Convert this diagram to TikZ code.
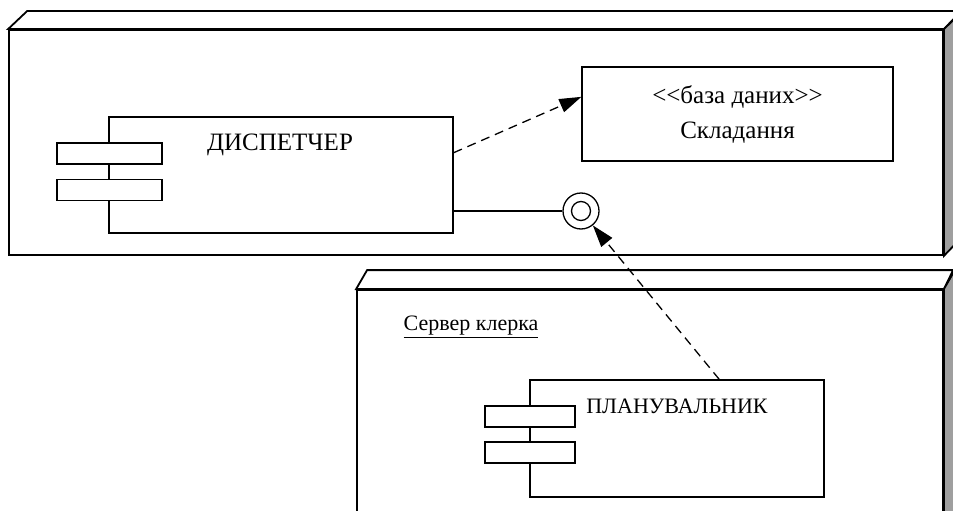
\documentclass[tikz,border=0pt]{standalone}
\usepackage{fontspec}
\setmainfont{Liberation Serif}
\usetikzlibrary{arrows.meta, calc}

\begin{document}
\begin{tikzpicture}[x=1pt, y=-1pt,
    every node/.style={font=\fontsize{22}{26}\selectfont},
    bigtext/.style={font=\fontsize{25}{35}\selectfont},
    front/.style={draw, line width=1.8pt, fill=white, inner sep=0pt},
    topface/.style={draw, line width=1.8pt, fill=white},
    sideface/.style={draw, line width=1.8pt, fill=gray!75},
    comp/.style={draw, line width=1.3pt, fill=white, inner sep=0pt},
    tab/.style={draw, line width=1.3pt, fill=white, inner sep=0pt, minimum height=21pt},
    dep/.style={-{Triangle[length=22pt, width=14pt]}, line width=1.3pt, dash pattern=on 9pt off 6pt},
    iring/.style={draw, circle, line width=1.3pt, fill=white, inner sep=0pt}
  ]
  \useasboundingbox (0,0) rectangle (953,511);
  \clip (0,0) rectangle (953,511);

  % upper node
  \node[front, minimum width=934pt, minimum height=225pt] (srv) at (476,142.5) {};
  \draw[topface] (srv.north west) -- ++(19,-18) -- ++(934,0) -- (srv.north east) -- cycle;
  \draw[sideface] (srv.north east) -- ++(19,-18) -- ++(0,225) -- (srv.south east) -- cycle;

  % lower node
  \node[front, minimum width=586pt, minimum height=270pt] (clerk) at (650,425) {};
  \draw[topface] (clerk.north west) -- ++(11,-19) -- ++(586,0) -- (clerk.north east) -- cycle;
  \draw[sideface] (clerk.north east) -- ++(11,-19) -- ++(0,270) -- (clerk.south east) -- cycle;
  \node (clerkname) at (471,327) {\underline{Сервер клерка}};

  % components
  \node[comp, minimum width=344pt, minimum height=116pt] (disp) at (281,175) {};
  \node[tab, minimum width=105pt] (disptaba) at (109.5,153.5) {};
  \node[tab, minimum width=105pt] (disptabb) at (109.5,190) {};
  \node[bigtext] (dispname) at (280,145) {ДИСПЕТЧЕР};

  \node[comp, minimum width=294pt, minimum height=117pt] (plan) at (677,438.5) {};
  \node[tab, minimum width=90pt] (plantaba) at (530,416.5) {};
  \node[tab, minimum width=90pt] (plantabb) at (530,452.5) {};
  \node (planname) at (677,406) {ПЛАНУВАЛЬНИК};

  \node[comp, bigtext, minimum width=311pt, minimum height=94pt, align=center] (db) at (737.5,114)
        {<\kern0pt<база даних>\kern0pt>\\Складання};

  % interface
  \node[iring, minimum size=36pt] (iface) at (581,211) {};
  \node[iring, minimum size=19pt] (ifacein) at (iface) {};
  \draw[line width=1.3pt] (disp.east |- iface) -- (iface.west);

  % dependencies
  \draw[dep] ($(disp.north east)!0.31!(disp.south east)$) -- ($(db.north west)!0.32!(db.south west)$);
  \draw[dep] ($(plan.north west)!0.643!(plan.north east)$) -- (iface);
\end{tikzpicture}
\end{document}
